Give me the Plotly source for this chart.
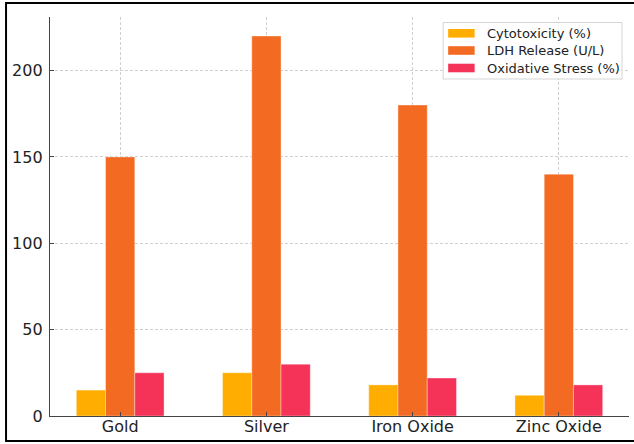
import plotly.graph_objects as go

categories = ["Gold", "Silver", "Iron Oxide", "Zinc Oxide"]
cytotoxicity = [15, 25, 18, 12]
ldh_release = [150, 220, 180, 140]
oxidative_stress = [25, 30, 22, 18]
series_names = ["Cytotoxicity (%)", "LDH Release (U/L)", "Oxidative Stress (%)"]
colors = ["#FFAD00", "#F36A22", "#F53258"]
y_ticks = [0, 50, 100, 150, 200]

W, H = 634, 444
L, R, T, B = 50, 4.5, 17, 28
pw, ph = W - L - R, H - T - B

fig = go.Figure()
for name, vals, col in zip(series_names, [cytotoxicity, ldh_release, oxidative_stress], colors):
    fig.add_trace(go.Bar(x=categories, y=vals, name=name, showlegend=False,
                         marker=dict(color=col, line=dict(color="rgba(255,255,255,0.6)", width=0.6))))

def px_x(p):
    return (p - L) / pw

def px_y(p):
    return (H - B - p) / ph

# figure frame
fig.add_shape(type="rect", xref="paper", yref="paper",
              x0=px_x(6), x1=px_x(645), y0=px_y(441), y1=px_y(3),
              line=dict(color="black", width=2), fillcolor="rgba(0,0,0,0)", layer="above")

# legend (drawn to match matplotlib-style layout)
fig.add_shape(type="rect", xref="paper", yref="paper",
              x0=px_x(443.5), x1=px_x(622.5), y0=px_y(79), y1=px_y(22.5),
              line=dict(color="#d5d5d5", width=1), fillcolor="rgba(255,255,255,0.85)", layer="above")
row_y = [33.3, 50.5, 68]
for name, col, ry in zip(series_names, colors, row_y):
    fig.add_shape(type="rect", xref="paper", yref="paper",
                  x0=px_x(448.5), x1=px_x(475), y0=px_y(ry + 4.3), y1=px_y(ry - 4.3),
                  line=dict(width=0), fillcolor=col, layer="above")
    fig.add_annotation(xref="paper", yref="paper", x=px_x(485.5), y=px_y(ry),
                       xanchor="left", yanchor="middle", text=name, showarrow=False,
                       font=dict(size=13, color="#222222"))

fig.update_layout(
    width=W, height=H,
    margin=dict(l=L, r=R, t=T, b=B, pad=0),
    paper_bgcolor="white", plot_bgcolor="white",
    barmode="group", bargap=0.4, bargroupgap=0,
    font=dict(family="DejaVu Sans", size=16, color="#222222"),
    showlegend=False,
)
grid_dash = "3px,2px"
fig.update_xaxes(range=[-0.48, 3.48], showline=True, linecolor="#444444", linewidth=1.3,
                 showgrid=True, gridcolor="#d0d0d0", griddash=grid_dash, gridwidth=0.8,
                 ticks="inside", ticklen=4, tickcolor="#444444", layer="above traces",
                 tickfont=dict(size=16), zeroline=False, ticklabelstandoff=-4)
fig.update_yaxes(range=[0, 231], tickvals=y_ticks, showline=True, linecolor="#444444", linewidth=1.3,
                 showgrid=True, gridcolor="#d0d0d0", griddash=grid_dash, gridwidth=0.8,
                 ticks="inside", ticklen=4, tickcolor="#444444", layer="above traces",
                 tickfont=dict(size=16), zeroline=False, ticklabelstandoff=3)

fig.write_html("out.html")
